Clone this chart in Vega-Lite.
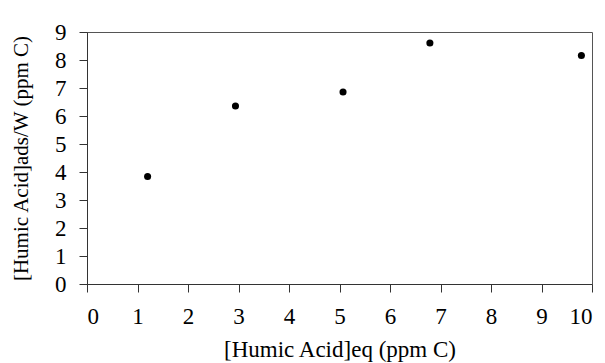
{
  "$schema": "https://vega.github.io/schema/vega-lite/v6.json",
  "width": 505,
  "height": 252,
  "autosize": {"type": "none"},
  "padding": {"left": 87, "top": 32, "right": 13, "bottom": 79},
  "background": "white",
  "config": {
    "view": {"stroke": "#555555", "strokeWidth": 1},
    "axis": {
      "labelFont": "Liberation Serif",
      "titleFont": "Liberation Serif",
      "labelFontSize": 23,
      "titleFontSize": 23,
      "titleFontWeight": "normal",
      "labelColor": "#000000",
      "titleColor": "#000000",
      "domainColor": "#333333",
      "tickColor": "#333333",
      "tickSize": 8,
      "grid": false
    }
  },
  "data": {
    "values": [
      {"eq": 1.2, "ads": 3.84},
      {"eq": 2.94, "ads": 6.36},
      {"eq": 5.07, "ads": 6.86},
      {"eq": 6.79, "ads": 8.61},
      {"eq": 9.79, "ads": 8.16}
    ]
  },
  "mark": {"type": "point", "filled": true, "color": "#000000", "size": 50, "opacity": 1},
  "encoding": {
    "x": {
      "field": "eq",
      "type": "quantitative",
      "scale": {"domain": [0, 10], "nice": false, "zero": true},
      "axis": {
        "values": [0, 1, 2, 3, 4, 5, 6, 7, 8, 9, 10],
        "title": "[Humic Acid]eq (ppm C)",
        "labelPadding": 13,
        "titlePadding": 10
      }
    },
    "y": {
      "field": "ads",
      "type": "quantitative",
      "scale": {"domain": [0, 9], "nice": false},
      "axis": {
        "values": [0, 1, 2, 3, 4, 5, 6, 7, 8, 9],
        "title": "[Humic Acid]ads/W (ppm C)",
        "titleFontSize": 21,
        "labelPadding": 13,
        "titlePadding": 23
      }
    }
  }
}
